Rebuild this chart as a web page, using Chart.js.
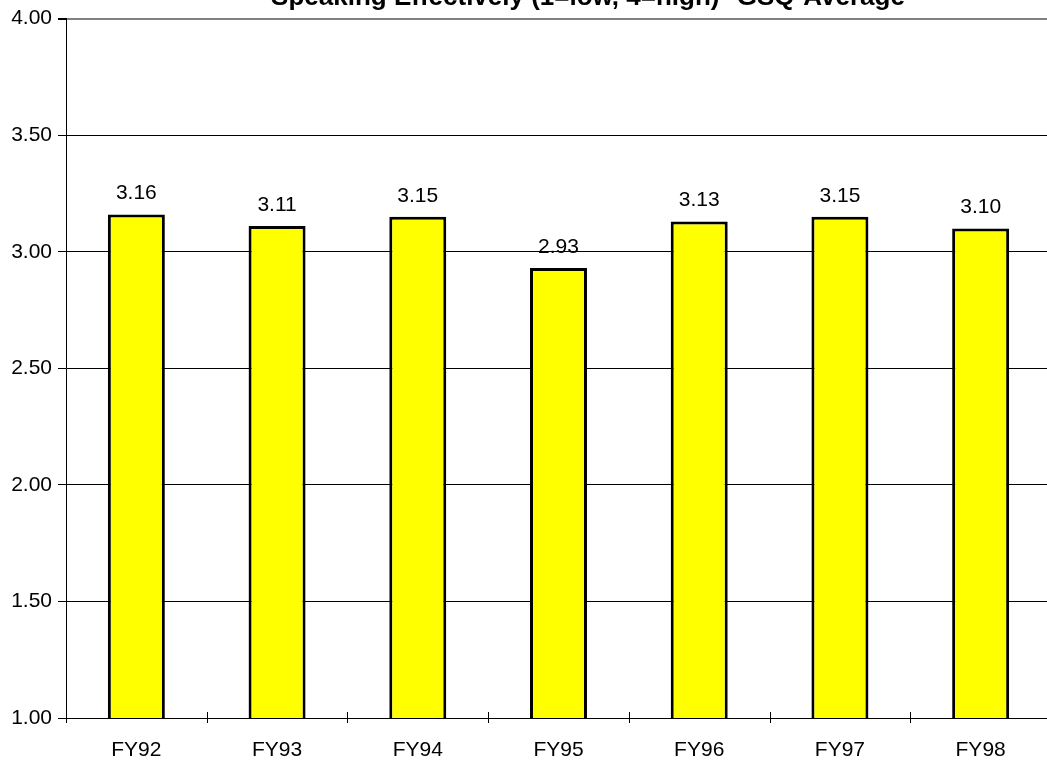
<!DOCTYPE html>
<html>
<head>
<meta charset="utf-8">
<script src="https://cdn.jsdelivr.net/npm/chart.js@4"></script>
<style>
html,body{margin:0;padding:0;background:#fff;overflow:hidden;}
#wrap{width:1047px;height:761px;overflow:hidden;}
canvas{display:block;}
</style>
</head>
<body>
<div id="wrap"><canvas id="c" width="1051" height="761"></canvas></div>
<script>
const categories = ["FY92","FY93","FY94","FY95","FY96","FY97","FY98"];
const averages = [3.16, 3.11, 3.15, 2.93, 3.13, 3.15, 3.10];
const yMin = 1, yMax = 4, yStep = 0.5;
const titleText = "Speaking Effectively (1=low, 4=high)--GSQ-Average";

const FONT = "'Liberation Sans', Arial, sans-serif";

const decor = {
  id: 'decor',
  afterDatasetsDraw(chart) {
    const ctx = chart.ctx;
    const meta = chart.getDatasetMeta(0);
    ctx.save();
    ctx.fillStyle = '#000';
    ctx.font = '21px ' + FONT;
    ctx.textAlign = 'center';
    ctx.textBaseline = 'alphabetic';
    meta.data.forEach((bar, i) => {
      ctx.fillText(averages[i].toFixed(2), bar.x, bar.y - 15);
    });
    // crossing category tick marks on x axis
    const xs = chart.scales.x;
    const area = chart.chartArea;
    ctx.strokeStyle = '#000';
    ctx.lineWidth = 1;
    for (let i = 0; i <= categories.length; i++) {
      const x = Math.round(xs.getPixelForValue(i - 0.5)) + 0.5;
      ctx.beginPath();
      ctx.moveTo(x, area.bottom - 6);
      ctx.lineTo(x, area.bottom + 5);
      ctx.stroke();
    }
    ctx.font = 'bold 26px ' + FONT;
    ctx.fillText(titleText, 588, 5);
    ctx.restore();
  }
};

new Chart(document.getElementById('c'), {
  type: 'bar',
  data: {
    labels: categories,
    datasets: [{
      data: averages,
      backgroundColor: '#FFFF00',
      borderColor: '#000',
      borderWidth: 3,
      borderSkipped: false,
      categoryPercentage: 1,
      barPercentage: 0.405
    }]
  },
  options: {
    responsive: false,
    animation: false,
    devicePixelRatio: 1,
    layout: { padding: { top: 17, left: 0, right: 0, bottom: 0 } },
    plugins: { legend: { display: false }, title: { display: false }, tooltip: { enabled: false } },
    scales: {
      x: {
        offset: true,
        grid: { display: false, offset: true },
        border: { display: true, color: '#000', width: 1 },
        ticks: { color: '#000', font: { family: FONT, size: 21 }, padding: 12, maxRotation: 0 },
        afterFit(s) { s.height = 43; }
      },
      y: {
        min: yMin, max: yMax,
        grid: {
          color: ctx => (ctx.tick && ctx.tick.value === yMax) ? '#808080' : '#000',
          lineWidth: ctx => (ctx.tick && ctx.tick.value === yMax) ? 2 : 1,
          tickLength: 8,
          tickColor: '#000'
        },
        border: { display: true, color: '#000', width: 1 },
        ticks: {
          stepSize: yStep,
          color: '#000',
          padding: 6,
          font: { family: FONT, size: 21 },
          callback: v => Number(v).toFixed(2)
        },
        afterFit(s) { s.width = 66; }
      }
    }
  },
  plugins: [decor]
});
</script>
</body>
</html>
